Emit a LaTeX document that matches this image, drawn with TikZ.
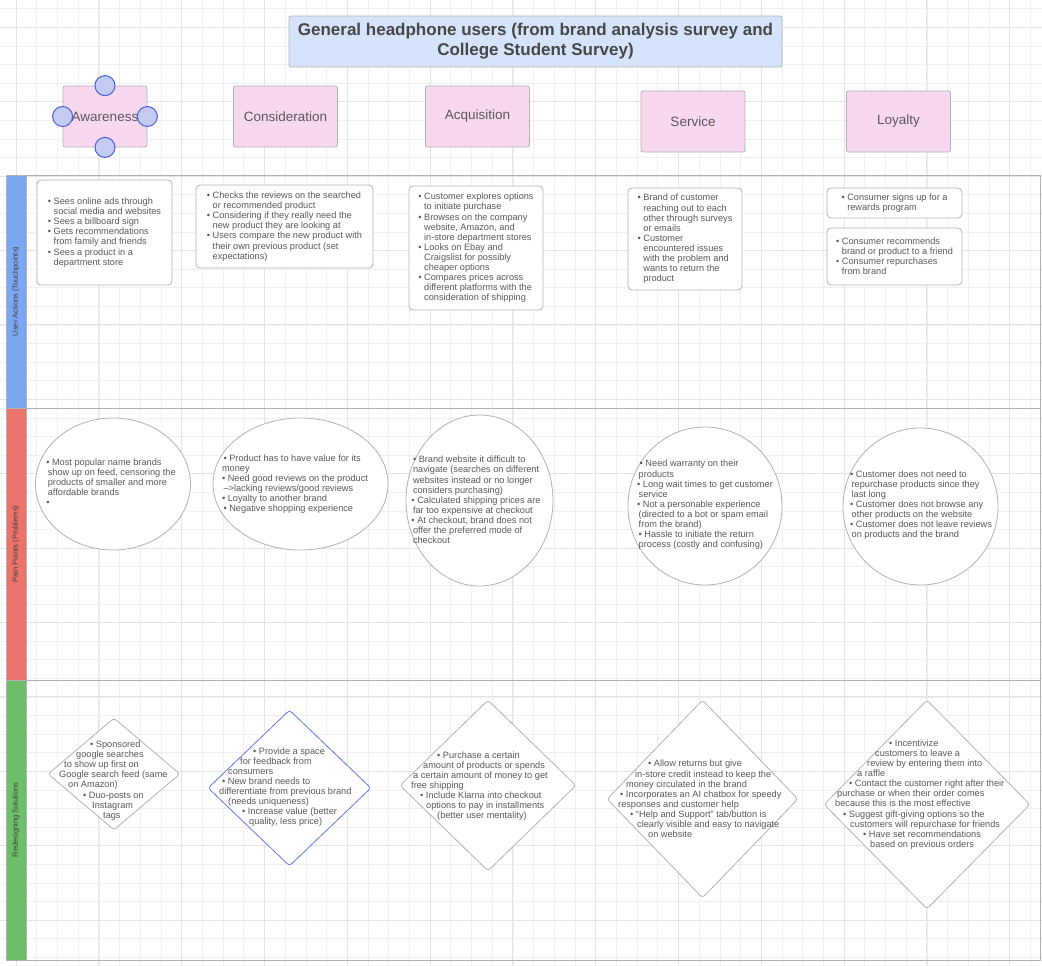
\documentclass[tikz,border=0pt]{standalone}
\usepackage{fontspec}
\setmainfont{Liberation Sans}
\usepackage{tikz}
\usetikzlibrary{shapes.geometric,positioning,calc}
\usepackage{xcolor}
\definecolor{inkGray}{HTML}{595959}
\definecolor{titleBlue}{HTML}{D6E4FB}
\definecolor{stagePink}{HTML}{F8D7F1}
\definecolor{laneBlue}{HTML}{7BA7F0}
\definecolor{laneRed}{HTML}{EC726C}
\definecolor{laneGreen}{HTML}{6DBE69}
\definecolor{handleFill}{HTML}{C4CBF2}
\definecolor{handleEdge}{HTML}{4A5EDD}
\definecolor{gridMinor}{HTML}{F0F0F0}
\definecolor{gridMajor}{HTML}{E4E4E4}
\newcommand{\pbul}{\textbullet\ }
\newcommand{\pind}{\phantom{\textbullet\ }}
\newcommand{\sh}[1]{\hspace*{#1pt}}
\tikzset{
    bodyText/.style={
        font=\fontsize{9.2}{10.1}\selectfont,
        text=inkGray
    },
    fixText/.style={
        bodyText,
        align=left,
        anchor=west,
        inner sep=0pt
    },
    stageBox/.style={
        draw=gray!60,
        fill=stagePink,
        rounded corners=2pt,
        minimum height=61pt,
        font=\fontsize{13.5}{16}\selectfont,
        text=inkGray,
        line width=0.8pt
    },
    actionCard/.style={
        bodyText,
        draw=gray!60,
        fill=white,
        rounded corners=4pt,
        align=left,
        inner sep=0pt,
        line width=0.8pt
    },
    painBubble/.style={
        ellipse,
        draw=gray!60,
        fill=white,
        inner sep=0pt,
        line width=0.8pt
    },
    solutionDiamond/.style={
        diamond,
        draw=gray!60,
        fill=white,
        rounded corners=3pt,
        inner sep=0pt,
        line width=0.8pt
    },
    laneStrip/.style={
        draw=gray!60,
        line width=0.8pt
    },
    laneLabel/.style={
        rotate=90,
        font=\fontsize{7.5}{9}\selectfont,
        text=black!75
    },
    handleDot/.style={
        circle,
        draw=handleEdge,
        fill=handleFill,
        minimum size=20pt,
        inner sep=0pt,
        line width=1pt
    },
}

\begin{document}
\begin{tikzpicture}[x=1pt, y=-1pt]
    \useasboundingbox (0,0) rectangle (1042,966);

    % background grid
    \foreach \k in {0,...,50} {
        \draw[gridMinor, line width=0.7pt] ({16.1+20.7*\k},0) -- ({16.1+20.7*\k},966);
    }
    \foreach \k in {0,...,52} {
        \draw[gridMinor, line width=0.7pt] (0,{8.7+18.6*\k}) -- (1042,{8.7+18.6*\k});
    }
    \foreach \k in {0,...,12} {
        \draw[gridMajor, line width=0.9pt] ({16.1+82.8*\k},0) -- ({16.1+82.8*\k},966);
    }
    \foreach \k in {0,...,12} {
        \draw[gridMajor, line width=0.9pt] (0,{27.3+74.4*\k}) -- (1042,{27.3+74.4*\k});
    }

    % Title
    \node[draw=gray!60, fill=titleBlue, rounded corners=2pt, minimum width=493pt, minimum height=51pt,
          font=\fontsize{17}{20}\selectfont\bfseries, text=black!72, align=center, line width=0.8pt]
        (title) at (535.5,41.5) {General headphone users (from brand analysis survey and\\College Student Survey)};

    % Journey stages
    \node[stageBox, minimum width=84pt] (aware) at (105,116.5) {Awareness};
    \node[stageBox, minimum width=104pt] (consider) at (285.5,116.5) {Consideration};
    \node[stageBox, minimum width=104pt] (acquire) at (477.5,116.5) {Acquisition};
    \node[stageBox, minimum width=104pt] (service) at (693,121.5) {Service};
    \node[stageBox, minimum width=104pt] (loyalty) at (898.5,121.5) {Loyalty};

    % selection handles on Awareness
    \node[handleDot] (hTop) at (aware.north) {};
    \node[handleDot] (hLeft) at (aware.west) {};
    \node[handleDot] (hRight) at (aware.east) {};
    \node[handleDot] (hBottom) at (aware.south) {};

    % Swimlanes
    \draw[laneStrip, fill=laneBlue] (6,175) rectangle (26,408);
    \draw[laneStrip, fill=laneRed] (6,408) rectangle (26,680);
    \draw[laneStrip, fill=laneGreen] (6,680) rectangle (26,960);
    \draw[laneStrip] (6,175) rectangle (1040,960);
    \draw[laneStrip] (26,408) -- (1040,408);
    \draw[laneStrip] (26,680) -- (1040,680);
    \node[laneLabel] (laneActions) at (16,291.5) {User Actions (Touchpoints)};
    \node[laneLabel] (lanePains) at (16,544) {Pain Points (Problems)};
    \node[laneLabel] (laneFixes) at (16,820) {Redesigning Solutions};

    % User actions
    \node[actionCard, minimum width=135pt, minimum height=105pt] (awareAct) at (104.5,232.5)
        {\pbul Sees online ads through\\ \pind social media and websites\\ \pbul Sees a billboard sign\\ \pbul Gets recommendations\\ \pind from family and friends\\ \pbul Sees a product in a\\ \pind department store};
    \node[actionCard, minimum width=177pt, minimum height=83pt] (considerAct) at (284.5,226.5)
        {\pbul Checks the reviews on the searched\\ \pind or recommended product\\ \pbul Considering if they really need the\\ \pind new product they are looking at\\ \pbul Users compare the new product with\\ \pind their own previous product (set\\ \pind expectations)};
    \node[actionCard, minimum width=134pt, minimum height=124pt] (acquireAct) at (476,248)
        {\pbul Customer explores options\\ \pind to initiate purchase\\ \pbul Browses on the company\\ \pind website, Amazon, and\\ \pind in-store department stores\\ \pbul Looks on Ebay and\\ \pind Craigslist for possibly\\ \pind cheaper options\\ \pbul Compares prices across\\ \pind different platforms with the\\ \pind consideration of shipping};
    \node[actionCard, minimum width=114pt, minimum height=102pt] (serviceAct) at (685,239)
        {\pbul Brand of customer\\ \pind reaching out to each\\ \pind other through surveys\\ \pind or emails\\ \pbul Customer\\ \pind encountered issues\\ \pind with the problem and\\ \pind wants to return the\\ \pind product};
    \node[actionCard, minimum width=135pt, minimum height=30pt] (loyaltyActA) at (894.5,203)
        {\pbul Consumer signs up for a\\ \pind rewards program};
    \node[actionCard, minimum width=135pt, minimum height=57pt] (loyaltyActB) at (894.5,256.5)
        {\pbul Consumer recommends\\ \pind brand or product to a friend\\ \pbul Consumer repurchases\\ \pind from brand};

    % Pain points
    \node[painBubble, minimum width=155pt, minimum height=132pt] (awarePain) at (113,484) {};
    \node[bodyText, align=left] (awarePainTxt) at (111,482)
        {\pbul Most popular name brands\\ \,show up on feed, censoring the\\ \,products of smaller and more\\ \,affordable brands\\ \pbul};
    \node[painBubble, minimum width=175pt, minimum height=132pt] (considerPain) at (300.5,484) {};
    \node[bodyText, align=left] (considerPainTxt) at (295,484)
        {\,\pbul Product has to have value for its\\ money\\ \pbul Need good reviews on the product\\ \,--{}>lacking reviews/good reviews\\ \pbul Loyalty to another brand\\ \,\pbul Negative shopping experience};
    \node[painBubble, minimum width=147pt, minimum height=171pt] (acquirePain) at (479.5,500.5) {};
    \node[bodyText, align=left] (acquirePainTxt) at (476,500)
        {\,\pbul Brand website it difficult to\\ \,navigate (searches on different\\ \,websites instead or no longer\\ \,considers purchasing)\\ \pbul Calculated shipping prices are\\ \,far too expensive at checkout\\ \pbul At checkout, brand does not\\ \,offer the preferred mode of\\ \,checkout};
    \node[painBubble, minimum width=154pt, minimum height=158pt] (servicePain) at (705,506) {};
    \node[bodyText, align=left] (servicePainTxt) at (705,505)
        {\;\pbul Need warranty on their\\ \,products\\ \pbul Long wait times to get customer\\ \,service\\ \pbul Not a personable experience\\ \,(directed to a bot or spam email\\ \,from the brand)\\ \,\pbul Hassle to initiate the return\\ \,process (costly and confusing)};
    \node[painBubble, minimum width=155pt, minimum height=157pt] (loyaltyPain) at (920.5,506.5) {};
    \node[bodyText, align=left] (loyaltyPainTxt) at (921,505)
        {\pbul Customer does not need to\\ \,repurchase products since they\\ \,last long\\ \pbul Customer does not browse any\\ \,other products on the website\\ \pbul Customer does not leave reviews\\ \,on products and the brand};

    % Redesigned solutions
    \node[solutionDiamond, minimum width=132pt, minimum height=112pt] (awareFix) at (114,774) {};
    \node[fixText] (awareFixTxt) at (59,780.5)
        {\sh{31}\pbul Sponsored\\ \sh{17}google searches\\ \sh{5}to show up first on\\ Google search feed (same\\ \sh{9}on Amazon)\\ \sh{24}\pbul Duo-posts on\\ \sh{33}Instagram\\ \sh{44}tags};
    \node[solutionDiamond, draw=handleEdge!85, minimum width=163pt, minimum height=156pt] (considerFix) at (289.5,788) {};
    \node[fixText] (considerFixTxt) at (219,787)
        {\sh{34}\pbul Provide a space\\ \sh{21}for feedback from\\ \sh{9}consumers\\ \sh{3}\pbul New brand needs to\\ differentiate from previous brand\\ \sh{9}(needs uniqueness)\\ \sh{23}\pbul Increase value (better\\ \sh{30}quality, less price)};
    \node[solutionDiamond, minimum width=176pt, minimum height=171pt] (acquireFix) at (488,785.5) {};
    \node[fixText] (acquireFixTxt) at (411,786)
        {\sh{26}\pbul Purchase a certain\\ \sh{12}amount of products or spends\\ \sh{2}a certain amount of money to get\\ free shipping\\ \sh{9}\pbul Include Klarna into checkout\\ \sh{15}options to pay in installments\\ \sh{26}(better user mentality)};
    \node[solutionDiamond, minimum width=191pt, minimum height=198pt] (serviceFix) at (702.5,799) {};
    \node[fixText] (serviceFixTxt) at (618,799)
        {\sh{30}\pbul Allow returns but give\\ \sh{17}in-store credit instead to keep the\\ \sh{8}money circulated in the brand\\ \sh{2}\pbul Incorporates an AI chatbox for speedy\\ responses and customer help\\ \sh{12}\pbul ``Help and Support'' tab/button is\\ \sh{19}clearly visible and easy to navigate\\ \sh{30}on website};
    \node[solutionDiamond, minimum width=206pt, minimum height=209pt] (loyaltyFix) at (927,804.5) {};
    \node[fixText] (loyaltyFixTxt) at (835,794.5)
        {\sh{54}\pbul Incentivize\\ \sh{40}customers to leave a\\ \sh{32}review by entering them into\\ \sh{22}a raffle\\ \sh{14}\pbul Contact the customer right after their\\ \sh{2}purchase or when their order comes\\ because this is the most effective\\ \sh{8}\pbul Suggest gift-giving options so the\\ \sh{15}customers will repurchase for friends\\ \sh{28}\pbul Have set recommendations\\ \sh{35}based on previous orders};

\end{tikzpicture}
\end{document}
